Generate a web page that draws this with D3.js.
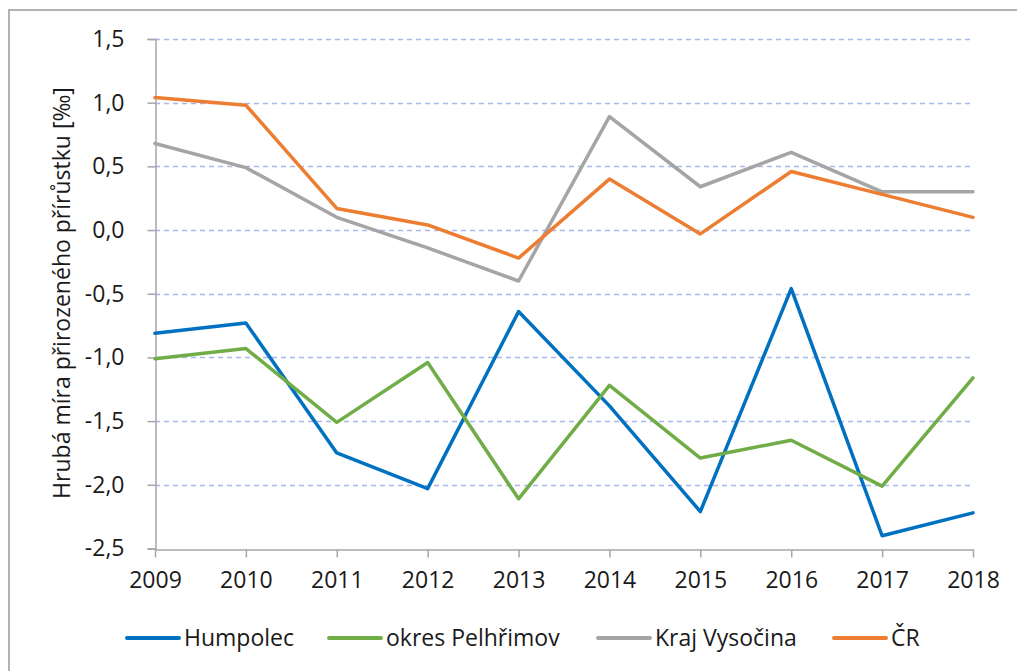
<!DOCTYPE html>
<html>
<head>
<meta charset="utf-8">
<script src="https://cdn.jsdelivr.net/npm/d3@7"></script>
<style>
  body { margin: 0; background: #fff; }
  text { font-family: 'Open Sans', 'Noto Sans', sans-serif; fill: #1a1a1a; }
</style>
</head>
<body>
<svg id="chart"></svg>
<script>
// chart size
const width = 1017;
const height = 671;

const margin = {
  top: 39,
  bottom: 123,
  left: 155,
  right: 44
};

// data
const years = [2009, 2010, 2011, 2012, 2013, 2014, 2015, 2016, 2017, 2018];
const humpolec = [-0.81, -0.73, -1.75, -2.03, -0.64, -1.38, -2.21, -0.46, -2.40, -2.22];
const pelhrimov = [-1.01, -0.93, -1.51, -1.04, -2.11, -1.22, -1.79, -1.65, -2.01, -1.16];
const vysocina = [0.68, 0.49, 0.10, -0.14, -0.40, 0.89, 0.34, 0.61, 0.30, 0.30];
const cr = [1.04, 0.98, 0.17, 0.04, -0.22, 0.40, -0.03, 0.46, 0.28, 0.10];

const yTicks = [1.5, 1.0, 0.5, 0.0, -0.5, -1.0, -1.5, -2.0, -2.5];

const seriesNames = ['Humpolec', 'okres Pelhřimov', 'Kraj Vysočina', 'ČR'];
const seriesValues = [humpolec, pelhrimov, vysocina, cr];
const colors = ['#0070c0', '#70ad47', '#a5a5a5', '#ed7d31'];

// legend start x for each entry
const legendX = [127, 329, 598, 834];

const series = seriesNames.map((name, i) => ({
  name: name,
  color: colors[i],
  values: years.map((y, j) => ({ year: y, value: seriesValues[i][j] }))
}));

const svg = d3.select('#chart')
              .attr('width', width)
              .attr('height', height);

// outer frame
svg.append('rect')
   .attr('x', 9)
   .attr('y', 10)
   .attr('width', width)
   .attr('height', height)
   .attr('fill', 'none')
   .attr('stroke', '#b3b3b3')
   .attr('stroke-width', 2);

const x = d3.scalePoint()
            .domain(years)
            .range([margin.left, width - margin.right]);

const y = d3.scaleLinear()
            .domain([-2.5, 1.5])
            .range([height - margin.bottom + 0.5, margin.top]);

const fmt = d => d3.format('.1f')(d).replace('.', ',').replace('−', '-');

// grid lines
svg.append('g')
   .attr('id', 'grid')
   .selectAll('line')
   .data(yTicks.filter(d => d !== -2.5))
   .enter()
   .append('line')
   .attr('x1', margin.left)
   .attr('x2', width - margin.right)
   .attr('y1', d => Math.round(y(d)) + 0.5)
   .attr('y2', d => Math.round(y(d)) + 0.5)
   .attr('stroke', '#a9b8ec')
   .attr('stroke-width', 1.3)
   .attr('stroke-dasharray', '5,4');

// y axis
const yAxis = d3.axisLeft(y)
                .tickValues(yTicks)
                .tickSize(8)
                .tickPadding(23)
                .tickFormat(fmt);

const yG = svg.append('g')
              .attr('transform', 'translate(' + (margin.left + 0.5) + ',0)')
              .call(yAxis);

yG.select('.domain').attr('stroke', '#a6a6a6').attr('stroke-width', 1.5);
yG.selectAll('.tick line').attr('stroke', '#a6a6a6').attr('stroke-width', 1.5);
yG.selectAll('.tick text')
  .style('font-size', '23px')
  .attr('fill', '#1a1a1a');

// x axis
const xAxis = d3.axisBottom(x)
                .tickSize(8)
                .tickPadding(14)
                .tickSizeOuter(0);

const xG = svg.append('g')
              .attr('transform', 'translate(0,' + (Math.round(y(-2.5)) + 0.5) + ')')
              .call(xAxis);

xG.select('.domain').attr('stroke', '#a6a6a6').attr('stroke-width', 1.5);
xG.selectAll('.tick line').attr('stroke', '#a6a6a6').attr('stroke-width', 1.5);
xG.selectAll('.tick text')
  .style('font-size', '23px')
  .attr('fill', '#1a1a1a');

// y axis title
svg.append('text')
   .attr('transform', 'translate(70,' + 293 + ') rotate(-90)')
   .attr('text-anchor', 'middle')
   .style('font-size', '23px')
   .text('Hrubá míra přirozeného přírůstku [‰]');

// lines
const line = d3.line()
               .x(d => x(d.year))
               .y(d => y(d.value));

svg.append('g')
   .attr('id', 'lines')
   .selectAll('path')
   .data(series)
   .enter()
   .append('path')
   .attr('d', d => line(d.values))
   .attr('fill', 'none')
   .attr('stroke', d => d.color)
   .attr('stroke-width', 3.5)
   .attr('stroke-linejoin', 'round')
   .attr('stroke-linecap', 'round');

// legend
const legend = svg.append('g')
                  .attr('id', 'legend')
                  .selectAll('g')
                  .data(series)
                  .enter()
                  .append('g')
                  .attr('transform', (d, i) => 'translate(' + legendX[i] + ',638)');

legend.append('line')
      .attr('x1', 0)
      .attr('x2', 52)
      .attr('stroke', d => d.color)
      .attr('stroke-width', 4)
      .attr('stroke-linecap', 'round');

legend.append('text')
      .attr('x', 57)
      .attr('y', 8)
      .style('font-size', '23px')
      .text(d => d.name);
</script>
</body>
</html>
